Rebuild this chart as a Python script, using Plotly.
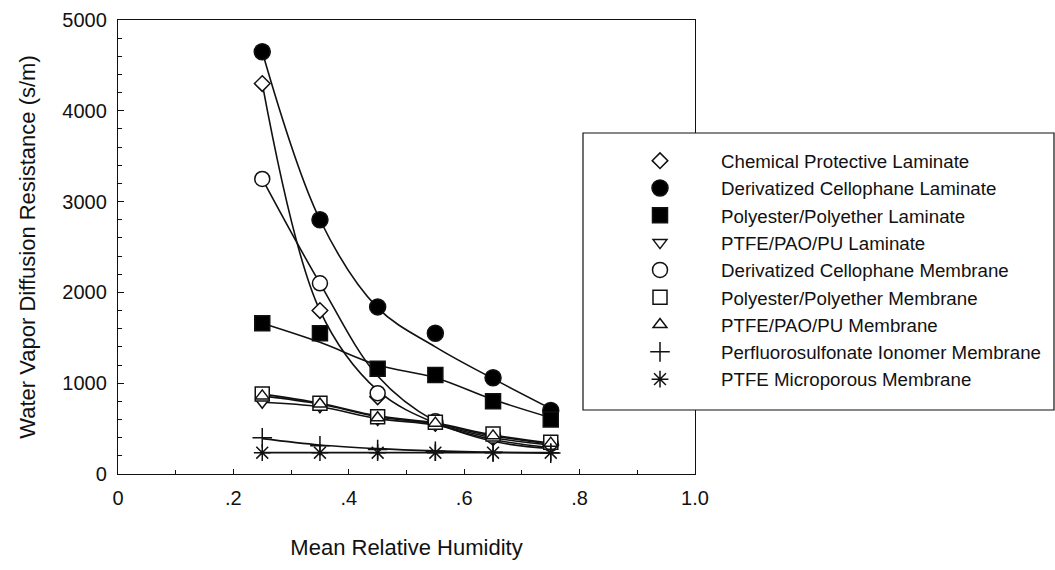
import plotly.graph_objects as go

rh = [0.25, 0.35, 0.45, 0.55, 0.65, 0.75]

names = [
    "Chemical Protective Laminate",
    "Derivatized Cellophane Laminate",
    "Polyester/Polyether Laminate",
    "PTFE/PAO/PU Laminate",
    "Derivatized Cellophane Membrane",
    "Polyester/Polyether Membrane",
    "PTFE/PAO/PU Membrane",
    "Perfluorosulfonate Ionomer Membrane",
    "PTFE Microporous Membrane",
]

# measured points (s/m)
cpl = [4300, 1800, 850, 560, 400, 320]
dcl = [4650, 2800, 1840, 1550, 1060, 700]
ppl = [1660, 1550, 1160, 1090, 800, 600]
ptfe_lam = [790, 740, 600, 540, 400, 320]
dcm = [3250, 2100, 890, 580, 420, 330]
ppm = [880, 780, 630, 570, 440, 350]
ptfe_mem = [860, 770, 620, 560, 420, 340]
psi = [400, 310, 270, 250, 240, 230]
micro = [235, 235, 235, 235, 235, 235]

# fitted curves read at the same humidities
cpl_fit = [4300, 1800, 920, 560, 380, 290]
dcl_fit = [4650, 2800, 1830, 1400, 1050, 720]
ppl_fit = [1660, 1450, 1200, 1060, 820, 620]
ptfe_lam_fit = [790, 740, 610, 540, 400, 320]
dcm_fit = [3250, 2100, 1080, 580, 360, 280]
ppm_fit = [880, 780, 640, 560, 430, 340]
ptfe_mem_fit = [860, 770, 630, 550, 420, 330]
psi_fit = [390, 320, 280, 255, 240, 230]
micro_fit = [235, 235, 235, 235, 235, 235]

points = [cpl, dcl, ppl, ptfe_lam, dcm, ppm, ptfe_mem, psi, micro]
fits = [cpl_fit, dcl_fit, ppl_fit, ptfe_lam_fit, dcm_fit, ppm_fit, ptfe_mem_fit, psi_fit, micro_fit]

symbols = ["diamond", "circle", "square", "triangle-down", "circle", "square",
           "triangle-up", "cross-thin", "asterisk"]
fills = ["white", "black", "black", "white", "white", "white", "white", "black", "black"]
sizes = [12, 16, 15, 12, 15, 14, 12, 14, 14]

INK = "#111111"
FONT = "Liberation Sans, Arial, Helvetica, sans-serif"

fig = go.Figure()

for f in fits:
    fig.add_trace(go.Scatter(
        x=rh, y=f, mode="lines", showlegend=False, hoverinfo="skip",
        line=dict(color=INK, width=1.6, shape="spline", smoothing=1.0),
    ))

for nm, p, sym, fc, sz in zip(names, points, symbols, fills, sizes):
    fig.add_trace(go.Scatter(
        x=rh, y=p, mode="markers", name=nm,
        marker=dict(symbol=sym, size=sz, color=fc,
                    line=dict(color=INK, width=1.5)),
    ))

# legend frame (covers the right part of the plot as in the original)
fig.add_shape(type="rect", xref="paper", yref="paper",
              x0=(583 - 118) / 577, x1=(1054 - 118) / 577,
              y0=(474 - 410) / 454, y1=(474 - 133) / 454,
              fillcolor="white", line=dict(color=INK, width=1.2), layer="above")

fig.update_layout(
    width=1055, height=570,
    margin=dict(l=118, r=360, t=20, b=96, autoexpand=False),
    paper_bgcolor="white", plot_bgcolor="white",
    font=dict(family=FONT, size=20, color=INK),
    legend=dict(
        x=(599 - 118) / 577, y=(474 - 142) / 454,
        xanchor="left", yanchor="top",
        bgcolor="rgba(0,0,0,0)", borderwidth=0,
        font=dict(family=FONT, size=18.7, color=INK),
        itemwidth=112, tracegroupgap=0,
    ),
    xaxis=dict(
        range=[0, 1.0],
        tickmode="array",
        tickvals=[0, 0.2, 0.4, 0.6, 0.8, 1.0],
        ticktext=["0", ".2", ".4", ".6", ".8", "1.0"],
        ticks="inside", ticklen=5, tickcolor=INK, tickwidth=1.2,
        minor=dict(tickmode="array", tickvals=[0.1, 0.3, 0.5, 0.7, 0.9],
                   ticks="inside", ticklen=4, tickcolor=INK),
        showline=True, linecolor=INK, linewidth=1.4, mirror=True,
        showgrid=False, zeroline=False,
        ticklabelstandoff=6,
        title=dict(text="Mean Relative Humidity", standoff=31,
                   font=dict(size=22)),
        tickfont=dict(size=20),
    ),
    yaxis=dict(
        range=[0, 5000],
        tickvals=[0, 1000, 2000, 3000, 4000, 5000],
        ticks="inside", ticklen=6, tickcolor=INK, tickwidth=1.2,
        minor=dict(dtick=200, tick0=0, ticks="inside", ticklen=4, tickcolor=INK),
        showline=True, linecolor=INK, linewidth=1.4, mirror=True,
        showgrid=False, zeroline=False,
        ticklabelstandoff=6,
        title=dict(text="Water Vapor Diffusion Resistance (s/m)", standoff=20,
                   font=dict(size=22)),
        tickfont=dict(size=20),
    ),
)

fig.write_html("out.html")
